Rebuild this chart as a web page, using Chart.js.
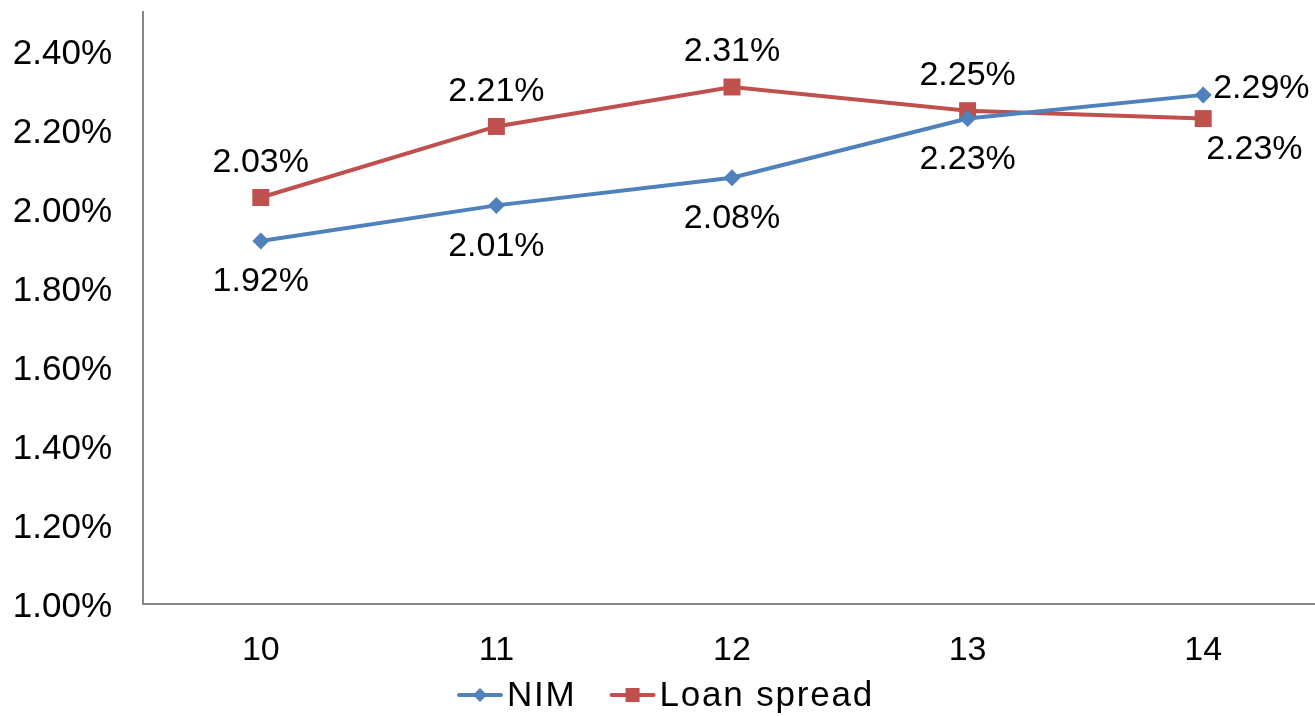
<!DOCTYPE html>
<html>
<head>
<meta charset="utf-8">
<script src="https://cdn.jsdelivr.net/npm/chart.js@4.4.1/dist/chart.umd.min.js"></script>
<style>
  html, body { margin: 0; padding: 0; background: #ffffff; overflow: hidden; }
  /* the plot runs a few pixels past the right edge of the window */
  #wrap { width: 1321px; height: 716px; position: relative; }
</style>
</head>
<body>
<div id="wrap"><canvas id="chart"></canvas></div>
<script>
// Years (two-digit) along the x axis
const years = ['10', '11', '12', '13', '14'];
// Net interest margin, %
const nim = [1.92, 2.01, 2.08, 2.23, 2.29];
// Loan spread, %
const loanSpread = [2.03, 2.21, 2.31, 2.25, 2.23];
// Labelled y-axis ticks, %
const yTicks = [1.0, 1.2, 1.4, 1.6, 1.8, 2.0, 2.2, 2.4];

// Where each value label sits relative to its point
const nimLabelPos = ['below', 'below', 'below', 'below', 'right'];
const loanLabelPos = ['above', 'above', 'above', 'above', 'belowRight'];

const BLUE = '#4F81BD';
const RED = '#C0504D';
const FONT = '"Liberation Sans", Arial, sans-serif';
const VISIBLE_WIDTH = 1315;

const fmt = v => v.toFixed(2) + '%';

// Draws the value next to every point
const valueLabels = {
  id: 'valueLabels',
  afterDatasetsDraw(chart) {
    const ctx = chart.ctx;
    ctx.save();
    ctx.font = '34px ' + FONT;
    ctx.fillStyle = '#000000';
    ctx.textBaseline = 'middle';
    chart.data.datasets.forEach((ds, di) => {
      const meta = chart.getDatasetMeta(di);
      meta.data.forEach((pt, i) => {
        const pos = ds.labelPos[i];
        let x = pt.x, y = pt.y;
        if (pos === 'below') { ctx.textAlign = 'center'; y += 41; }
        else if (pos === 'above') { ctx.textAlign = 'center'; y -= 35; }
        else if (pos === 'right') { ctx.textAlign = 'left'; x += 10; y -= 6; }
        else if (pos === 'belowRight') { ctx.textAlign = 'left'; x += 3; y += 31; }
        ctx.fillText(fmt(ds.data[i]), x, y);
      });
    });
    ctx.restore();
  }
};

// Legend under the axis: line-with-marker sample followed by the series name
const lineLegend = {
  id: 'lineLegend',
  afterDraw(chart) {
    const ctx = chart.ctx;
    const y = chart.chartArea.bottom + 91;
    const sampleW = 46, gap = 4, itemGap = 33;
    ctx.save();
    ctx.font = '35px ' + FONT;
    if ('letterSpacing' in ctx) ctx.letterSpacing = '1.8px';
    const items = chart.data.datasets.map(ds => ({ ds, w: ctx.measureText(ds.label).width }));
    const total = items.reduce((s, it) => s + sampleW + gap + it.w, 0) + itemGap * (items.length - 1);
    let x = VISIBLE_WIDTH / 2 - total / 2 + 8;
    items.forEach(({ ds, w }) => {
      ctx.strokeStyle = ds.borderColor;
      ctx.fillStyle = ds.borderColor;
      ctx.lineWidth = 4;
      ctx.lineCap = 'round';
      ctx.beginPath(); ctx.moveTo(x + 2, y); ctx.lineTo(x + sampleW - 2, y); ctx.stroke();
      const cx = x + sampleW / 2;
      if (ds.pointStyle === 'rectRot') {
        ctx.beginPath();
        ctx.moveTo(cx, y - 7); ctx.lineTo(cx + 7, y); ctx.lineTo(cx, y + 7); ctx.lineTo(cx - 7, y);
        ctx.closePath(); ctx.fill();
      } else {
        ctx.fillRect(cx - 7, y - 7, 14, 14);
      }
      ctx.fillStyle = '#000000';
      ctx.textAlign = 'left';
      ctx.textBaseline = 'middle';
      ctx.fillText(ds.label, x + sampleW + gap, y + 1);
      x += sampleW + gap + w + itemGap;
    });
    ctx.restore();
  }
};

new Chart(document.getElementById('chart'), {
  type: 'line',
  data: {
    labels: years,
    datasets: [
      {
        label: 'NIM',
        data: nim,
        labelPos: nimLabelPos,
        borderColor: BLUE,
        backgroundColor: BLUE,
        borderWidth: 4,
        pointStyle: 'rectRot',
        pointRadius: 8.5,
        pointBorderWidth: 0,
        pointBackgroundColor: BLUE,
        tension: 0
      },
      {
        label: 'Loan spread',
        data: loanSpread,
        labelPos: loanLabelPos,
        borderColor: RED,
        backgroundColor: RED,
        borderWidth: 4,
        pointStyle: 'rect',
        pointRadius: 12,
        pointBorderWidth: 0,
        pointBackgroundColor: RED,
        tension: 0
      }
    ]
  },
  options: {
    responsive: true,
    maintainAspectRatio: false,
    animation: false,
    devicePixelRatio: 1,
    layout: { autoPadding: false, padding: { top: 12, right: 0, left: 0, bottom: 50 } },
    plugins: {
      tooltip: { enabled: false },
      legend: { display: false }
    },
    scales: {
      x: {
        offset: true,
        grid: { display: false, drawTicks: false },
        border: { display: true, color: '#868686', width: 2 },
        afterFit(scale) { scale.height = 62; scale.paddingLeft = 0; scale.paddingRight = 0; },
        ticks: { font: { family: FONT, size: 34 }, color: '#000000', padding: 26 }
      },
      y: {
        min: 1.0,
        max: 2.5,
        grid: { display: false, drawTicks: false },
        border: { display: true, color: '#868686', width: 2 },
        afterBuildTicks(scale) { scale.ticks = yTicks.map(v => ({ value: v })); },
        afterFit(scale) { scale.width = 143; scale.paddingTop = 0; scale.paddingBottom = 0; },
        ticks: {
          font: { family: FONT, size: 35 },
          color: '#000000',
          padding: 31,
          labelOffset: 3,
          callback: v => fmt(v)
        }
      }
    }
  },
  plugins: [valueLabels, lineLegend]
});
</script>
</body>
</html>
